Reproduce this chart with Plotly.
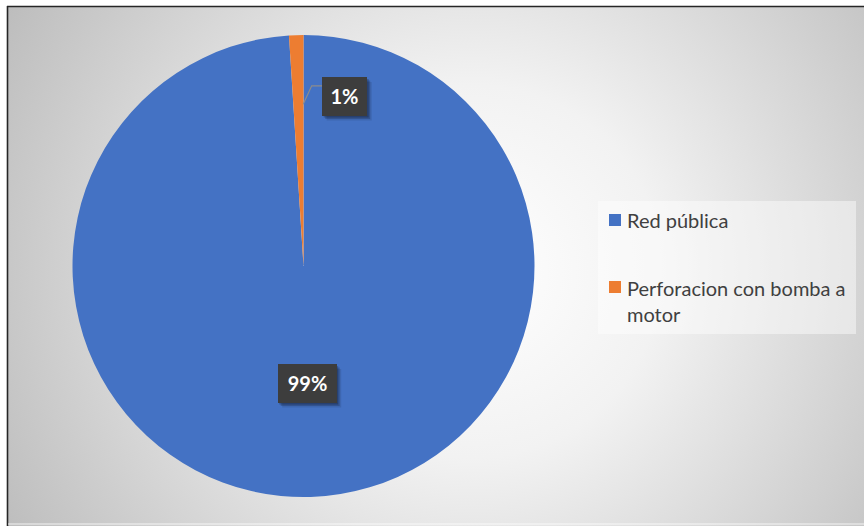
import math
from urllib.parse import quote
import plotly.graph_objects as go

# Water supply source shares
labels = ["Red pública", "Perforacion con bomba a motor"]
values = [99, 1]
colors = ["#4472C4", "#ED7D31"]

W, H = 864, 526
FONT = "Lato, 'Open Sans', sans-serif"
TEXT_GREY = "#404040"


def px(x):
    return x / W


def py(y):
    return 1 - y / H


# Pie placement (pixels)
cx, cy, R = 303.5, 266.0, 231.0

total = sum(values)
shares = [v / total for v in values]

fig = go.Figure()
fig.add_trace(go.Pie(
    labels=labels,
    values=values,
    sort=False,
    direction="clockwise",
    rotation=0,
    marker=dict(colors=colors, line=dict(width=0)),
    textinfo="none",
    hoverinfo="label+percent",
    showlegend=False,
    domain=dict(x=[px(cx - R), px(cx + R)], y=[py(cy + R), py(cy - R)]),
))

# Radial background fill of the chart area
svg = (
    "<svg xmlns='http://www.w3.org/2000/svg' width='864' height='526'>"
    "<defs><radialGradient id='g' gradientUnits='userSpaceOnUse' cx='470' cy='268' r='540'>"
    "<stop offset='0' stop-color='#ffffff'/>"
    "<stop offset='0.35' stop-color='#f2f2f2'/>"
    "<stop offset='1' stop-color='#bdbdbd'/>"
    "</radialGradient></defs>"
    "<rect x='0' y='0' width='864' height='526' fill='url(#g)'/></svg>"
)
images = [dict(
    source="data:image/svg+xml;charset=utf-8," + quote(svg),
    xref="paper", yref="paper", x=px(8), y=py(7),
    sizex=px(W - 8), sizey=py(7),
    sizing="stretch", xanchor="left", yanchor="top", layer="below",
)]

shapes = []
annotations = []

# Chart-area frame (top and left edges visible)
shapes.append(dict(type="line", xref="paper", yref="paper",
                   x0=px(7), x1=1, y0=py(6.5), y1=py(6.5),
                   line=dict(color="#262626", width=1.6)))
shapes.append(dict(type="line", xref="paper", yref="paper",
                   x0=px(7.5), x1=px(7.5), y0=py(6), y1=0,
                   line=dict(color="#262626", width=1.6)))
shapes.append(dict(type="line", xref="paper", yref="paper",
                   x0=px(8), x1=1, y0=py(524), y1=py(524),
                   line=dict(color="rgba(255,255,255,0.8)", width=1)))


def slice_point(idx, frac, pos=0.5):
    start = sum(shares[:idx]) * 360.0
    ang = math.radians(start + shares[idx] * 360.0 * pos)
    return cx + frac * R * math.sin(ang), cy - frac * R * math.cos(ang)


def pct_value(idx):
    return f"{round(shares[idx] * 100)}%"


def boxed_label(x_left, y_mid, value_text):
    bw = 17 + 14 * len(value_text)
    bh = 38.5
    # soft drop shadow behind the dark label box
    for off, alpha in ((4.5, 0.10), (3, 0.18), (1.5, 0.22)):
        shapes.append(dict(type="rect", xref="paper", yref="paper",
                           x0=px(x_left + off), x1=px(x_left + bw + off),
                           y0=py(y_mid + bh / 2 + off), y1=py(y_mid - bh / 2 + off),
                           fillcolor=f"rgba(0,0,0,{alpha})", line=dict(width=0)))
    annotations.append(dict(
        xref="paper", yref="paper", x=px(x_left), y=py(y_mid),
        xanchor="left", yanchor="middle",
        text=f"<b>{value_text}</b>", showarrow=False,
        width=bw, height=bh, align="center", valign="middle",
        font=dict(family=FONT, size=20, color="#ffffff"),
        bgcolor="#3d3d3d", borderpad=0, borderwidth=0,
    ))


# Large slice: label inside
lx, ly = slice_point(0, 0.51)
txt0 = pct_value(0)
boxed_label(lx - (17 + 14 * len(txt0)) / 2, ly, txt0)

# Small slice: label outside with a leader line from the slice's trailing edge
ax_, ay_ = slice_point(1, 0.70, pos=0.97)
ex, ey = ax_ + 8.5, ay_ - 18.5
bx = ex + 10.5
shapes.append(dict(type="path", xref="paper", yref="paper",
                   path=f"M {px(ax_)} {py(ay_)} L {px(ex)} {py(ey)} L {px(bx)} {py(ey)}",
                   line=dict(color="#8c8c8c", width=1.2)))
boxed_label(bx, ey + 11, pct_value(1))

# Legend panel
lg_x0, lg_x1, lg_y0, lg_y1 = 598, 856, 201, 334
shapes.append(dict(type="rect", xref="paper", yref="paper",
                   x0=px(lg_x0), x1=px(lg_x1), y0=py(lg_y1), y1=py(lg_y0),
                   fillcolor="rgba(255,255,255,0.45)", line=dict(width=0), layer="below"))


def wrap(text, width):
    lines, cur = [], ""
    for word in text.split():
        trial = (cur + " " + word).strip()
        if len(trial) > width and cur:
            lines.append(cur)
            cur = word
        else:
            cur = trial
    lines.append(cur)
    return lines


item_tops = [214, 281]
line_h = 26
for i, lab in enumerate(labels):
    top = item_tops[i]
    shapes.append(dict(type="rect", xref="paper", yref="paper",
                       x0=px(609), x1=px(621), y0=py(top + 12), y1=py(top),
                       fillcolor=colors[i], line=dict(width=0)))
    for j, ln in enumerate(wrap(lab, 23)):
        annotations.append(dict(
            xref="paper", yref="paper", x=px(625), y=py(top + 6.5 + j * line_h),
            xanchor="left", yanchor="middle", text=ln, showarrow=False,
            font=dict(family=FONT, size=20, color=TEXT_GREY),
        ))

fig.update_layout(
    width=W, height=H,
    margin=dict(l=0, r=0, t=0, b=0),
    paper_bgcolor="#ffffff",
    plot_bgcolor="rgba(0,0,0,0)",
    images=images,
    shapes=shapes,
    annotations=annotations,
    showlegend=False,
)

fig.write_html("out.html")
